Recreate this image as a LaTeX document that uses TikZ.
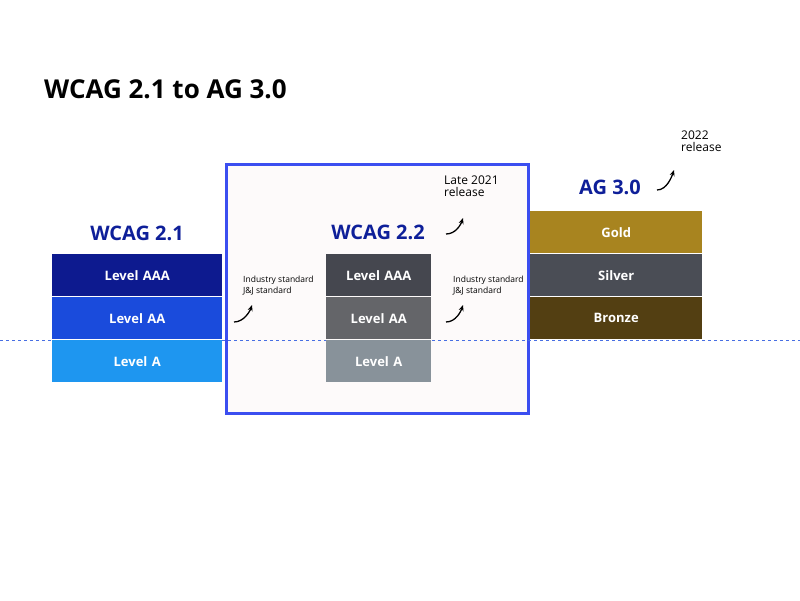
\documentclass[tikz,border=0pt]{standalone}
\usetikzlibrary{arrows.meta,calc}
\usepackage{fontspec}
\setmainfont{Open Sans}
\definecolor{tb}{HTML}{0E1F99}
\definecolor{c1}{HTML}{0D1A8F}
\definecolor{c2}{HTML}{1A4BDC}
\definecolor{c3}{HTML}{1E96F0}
\definecolor{g1}{HTML}{45474F}
\definecolor{g2}{HTML}{646569}
\definecolor{g3}{HTML}{88929A}
\definecolor{au}{HTML}{A8841F}
\definecolor{ag}{HTML}{4A4D55}
\definecolor{br}{HTML}{533F12}
\definecolor{fr}{HTML}{3B4EF0}
\definecolor{bg}{HTML}{FDFAFA}
\begin{document}
\begin{tikzpicture}[x=1pt,y=-1pt,
  lvl/.style={draw=none,text=white,font=\fontsize{13}{15}\selectfont\bfseries,anchor=north west,inner sep=0pt,text width=#1,align=center,minimum height=42pt},
  hd/.style={text=tb,font=\fontsize{20}{24}\selectfont\bfseries,inner sep=0pt},
  sm/.style={font=\fontsize{8.5}{11}\selectfont,align=left,anchor=north west,inner sep=0pt},
  rl/.style={font=\fontsize{12}{12}\selectfont,align=left,anchor=north west,inner sep=0pt},
  ar/.style={-{Stealth[length=6pt,width=5pt]},line width=1.3pt,black}]
\useasboundingbox (0,0) rectangle (800,600);
\node[font=\fontsize{26}{30}\selectfont\bfseries,anchor=west,inner sep=0pt] (title) at (44,89) {WCAG 2.1 to AG 3.0};
\node[draw=fr,line width=2.5pt,fill=bg,anchor=north west,minimum width=302pt,minimum height=249pt,inner sep=0pt] (frame) at (225,163) {};
\draw[dashed,c2!80] (0,340) -- (800,340);
% WCAG 2.1
\node[hd] (h21) at (137,233) {WCAG 2.1};
\node[lvl=170pt,fill=c1] (a3) at (52,254) {Level AAA};
\node[lvl=170pt,fill=c2] (a2) at (52,297) {Level AA};
\node[lvl=170pt,fill=c3] (a1) at (52,340) {Level A};
% WCAG 2.2
\node[hd] (h22) at (378,232) {WCAG 2.2};
\node[lvl=105pt,fill=g1] (b3) at (326,254) {Level AAA};
\node[lvl=105pt,fill=g2] (b2) at (326,297) {Level AA};
\node[lvl=105pt,fill=g3] (b1) at (326,340) {Level A};
% AG 3.0
\node[hd] (h30) at (610,187) {AG 3.0};
\node[lvl=172pt,fill=au] (c3n) at (530,211) {Gold};
\node[lvl=172pt,fill=ag] (c2n) at (530,254) {Silver};
\node[lvl=172pt,fill=br] (c1n) at (530,297) {Bronze};
% notes
\node[sm] (n1) at (243,276) {Industry standard\\J\&J standard};
\node[sm] (n2) at (453,276) {Industry standard\\J\&J standard};
\node[rl] (r1) at (444,176) {Late 2021\\release};
\node[rl] (r2) at (681,131) {2022\\release};
\coordinate (s1) at (234,322); \coordinate (e1) at (252,305);
\coordinate (s2) at (446,322); \coordinate (e2) at (463,305);
\coordinate (s3) at (446,234); \coordinate (e3) at (463,218);
\coordinate (s4) at (657,190); \coordinate (e4) at (674,170);
\foreach \i in {1,2,3,4}{\draw[ar] (s\i) .. controls ($(s\i)+(10,0)$) and ($(e\i)+(-2,6)$) .. (e\i);}
\end{tikzpicture}
\end{document}
